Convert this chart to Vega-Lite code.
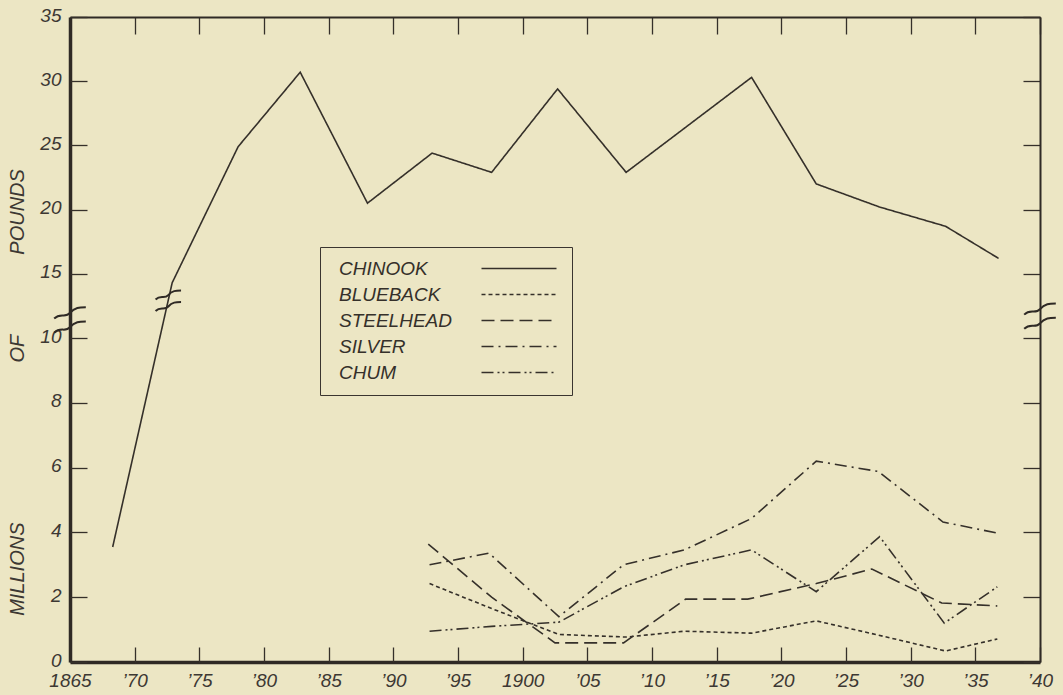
{
  "$schema": "https://vega.github.io/schema/vega-lite/v6.json",
  "width": 970,
  "height": 645,
  "autosize": {"type": "none"},
  "padding": {"left": 70, "top": 17, "right": 23, "bottom": 33},
  "background": "#ece6c4",
  "config": {"view": {"stroke": null}, "font": "Liberation Sans"},
  "datasets": {
    "series": [
      {"species": "CHINOOK", "year": 1868.3, "value": 3.55},
      {"species": "CHINOOK", "year": 1872.9, "value": 14.3},
      {"species": "CHINOOK", "year": 1878.0, "value": 24.9},
      {"species": "CHINOOK", "year": 1882.8, "value": 30.7},
      {"species": "CHINOOK", "year": 1888.0, "value": 20.5},
      {"species": "CHINOOK", "year": 1893.0, "value": 24.4},
      {"species": "CHINOOK", "year": 1897.6, "value": 22.9},
      {"species": "CHINOOK", "year": 1902.7, "value": 29.4},
      {"species": "CHINOOK", "year": 1908.0, "value": 22.9},
      {"species": "CHINOOK", "year": 1917.7, "value": 30.3},
      {"species": "CHINOOK", "year": 1922.7, "value": 22.0},
      {"species": "CHINOOK", "year": 1927.6, "value": 20.2},
      {"species": "CHINOOK", "year": 1932.7, "value": 18.7},
      {"species": "CHINOOK", "year": 1936.8, "value": 16.2},
      {"species": "BLUEBACK", "year": 1892.8, "value": 2.42},
      {"species": "BLUEBACK", "year": 1897.6, "value": 1.65},
      {"species": "BLUEBACK", "year": 1902.8, "value": 0.85},
      {"species": "BLUEBACK", "year": 1908.0, "value": 0.77},
      {"species": "BLUEBACK", "year": 1912.5, "value": 0.95},
      {"species": "BLUEBACK", "year": 1917.7, "value": 0.89},
      {"species": "BLUEBACK", "year": 1922.7, "value": 1.27},
      {"species": "BLUEBACK", "year": 1927.5, "value": 0.83},
      {"species": "BLUEBACK", "year": 1932.7, "value": 0.34},
      {"species": "BLUEBACK", "year": 1936.7, "value": 0.71},
      {"species": "STEELHEAD", "year": 1892.7, "value": 3.64},
      {"species": "STEELHEAD", "year": 1897.6, "value": 2.0},
      {"species": "STEELHEAD", "year": 1902.5, "value": 0.59},
      {"species": "STEELHEAD", "year": 1907.8, "value": 0.59},
      {"species": "STEELHEAD", "year": 1912.6, "value": 1.94},
      {"species": "STEELHEAD", "year": 1917.4, "value": 1.94},
      {"species": "STEELHEAD", "year": 1922.7, "value": 2.42},
      {"species": "STEELHEAD", "year": 1927.0, "value": 2.87},
      {"species": "STEELHEAD", "year": 1932.4, "value": 1.82},
      {"species": "STEELHEAD", "year": 1936.7, "value": 1.73},
      {"species": "SILVER", "year": 1892.8, "value": 3.0},
      {"species": "SILVER", "year": 1897.4, "value": 3.36},
      {"species": "SILVER", "year": 1902.8, "value": 1.4},
      {"species": "SILVER", "year": 1907.8, "value": 3.0},
      {"species": "SILVER", "year": 1912.5, "value": 3.46},
      {"species": "SILVER", "year": 1917.7, "value": 4.43},
      {"species": "SILVER", "year": 1922.7, "value": 6.2},
      {"species": "SILVER", "year": 1927.5, "value": 5.88},
      {"species": "SILVER", "year": 1932.5, "value": 4.32},
      {"species": "SILVER", "year": 1936.7, "value": 3.98},
      {"species": "CHUM", "year": 1892.8, "value": 0.95},
      {"species": "CHUM", "year": 1897.6, "value": 1.1},
      {"species": "CHUM", "year": 1902.8, "value": 1.23},
      {"species": "CHUM", "year": 1907.8, "value": 2.32},
      {"species": "CHUM", "year": 1912.5, "value": 3.0},
      {"species": "CHUM", "year": 1917.7, "value": 3.46},
      {"species": "CHUM", "year": 1922.7, "value": 2.17},
      {"species": "CHUM", "year": 1927.6, "value": 3.87},
      {"species": "CHUM", "year": 1932.6, "value": 1.2},
      {"species": "CHUM", "year": 1936.7, "value": 2.32}
    ],
    "axisBreaks": [
      {"year": 1865, "value": 11.4},
      {"year": 1940, "value": 11.7}
    ],
    "lineBreaks": [
      {"year": 1872.6, "value": 12.9}
    ]
  },
  "layer": [
    {
      "data": {"name": "series"},
      "mark": {"type": "line", "color": "#35302a", "strokeWidth": 1.6},
      "encoding": {
        "x": {
          "field": "year",
          "type": "quantitative",
          "scale": {"domain": [1865, 1940], "nice": false, "zero": false},
          "axis": {
            "orient": "bottom",
            "values": [1865, 1870, 1875, 1880, 1885, 1890, 1895, 1900, 1905, 1910, 1915, 1920, 1925, 1930, 1935, 1940],
            "title": null,
            "grid": false,
            "ticks": false,
            "labelExpr": "datum.value == 1865 || datum.value == 1900 ? '' + datum.value : '’' + substring('' + datum.value, 2, 4)",
            "domainWidth": 3.5,
            "domainColor": "#2f2a25",
            "labelPadding": 9,
            "labelFont": "Liberation Sans",
            "labelFontStyle": "italic",
            "labelFontSize": 19,
            "labelColor": "#3d3833",
            "labelFlush": false,
            "labelOverlap": false
          }
        },
        "y": {
          "field": "value",
          "type": "quantitative",
          "scale": {"domain": [0, 10, 35], "range": [645, 321, 0], "nice": false, "zero": false},
          "axis": {
            "orient": "left",
            "values": [0, 2, 4, 6, 8, 10, 15, 20, 25, 30, 35],
            "grid": false,
            "ticks": false,
            "title": "MILLIONS\u2003\u2003\u2003\u2003\u2003\u2003\u2003\u2003OF\u2003\u2003\u2003\u2003POUNDS",
            "titleFont": "Liberation Sans",
            "titleFontStyle": "italic",
            "titleFontWeight": "normal",
            "titleFontSize": 20,
            "titleColor": "#3d3833",
            "titleAngle": -90,
            "titleAlign": "center",
            "titleBaseline": "alphabetic",
            "titleX": -47,
            "titleY": 375,
            "domainWidth": 3.5,
            "domainColor": "#2f2a25",
            "labelPadding": 9,
            "labelOffset": -2,
            "labelFont": "Liberation Sans",
            "labelFontStyle": "italic",
            "labelFontSize": 19,
            "labelColor": "#3d3833",
            "labelFlush": false,
            "labelOverlap": false
          }
        },
        "strokeDash": {
          "field": "species",
          "type": "nominal",
          "scale": {
            "domain": ["CHINOOK", "BLUEBACK", "STEELHEAD", "SILVER", "CHUM"],
            "range": [[1, 0], [4, 3], [13, 6], [12, 5, 2, 5], [12, 4, 2, 3, 2, 4]]
          },
          "legend": {
            "orient": "none",
            "legendX": 250,
            "legendY": 230,
            "title": null,
            "symbolType": "M 28 0 L 43 0",
            "symbolSize": 100,
            "symbolStrokeWidth": 1.6,
            "symbolStrokeColor": "#35302a",
            "labelOffset": -12,
            "labelFont": "Liberation Sans",
            "labelFontStyle": "italic",
            "labelFontSize": 19,
            "labelColor": "#35302a",
            "labelLimit": 0,
            "strokeColor": "#3a3530",
            "padding": 12,
            "rowPadding": 6
          }
        }
      }
    },
    {
      "data": {"name": "axisBreaks"},
      "mark": {
        "type": "point",
        "shape": "M -1 -0.1 C -0.6 -0.5 -0.3 -0.1 0 -0.45 S 0.6 -0.8 1 -0.8 M -1 0.8 C -0.6 0.4 -0.3 0.8 0 0.45 S 0.6 0.1 1 0.1",
        "filled": false,
        "size": 1000,
        "stroke": "#2f2a25",
        "strokeWidth": 2,
        "opacity": 1
      },
      "encoding": {
        "x": {
          "field": "year",
          "type": "quantitative",
          "scale": {"domain": [1865, 1940], "nice": false, "zero": false},
          "axis": {
            "orient": "top",
            "offset": -645,
            "values": [1865, 1870, 1875, 1880, 1885, 1890, 1895, 1900, 1905, 1910, 1915, 1920, 1925, 1930, 1935, 1940],
            "title": null,
            "grid": false,
            "labels": false,
            "domain": false,
            "tickSize": 15,
            "tickWidth": 1.3,
            "tickColor": "#35302a"
          }
        },
        "y": {
          "field": "value",
          "type": "quantitative",
          "scale": {"domain": [0, 10, 35], "range": [645, 321, 0], "nice": false, "zero": false},
          "axis": {
            "orient": "right",
            "offset": -970,
            "values": [0, 2, 4, 6, 8, 10, 15, 20, 25, 30, 35],
            "title": null,
            "grid": false,
            "labels": false,
            "domain": false,
            "tickSize": 17,
            "tickWidth": 1.3,
            "tickColor": "#35302a"
          }
        }
      }
    },
    {
      "data": {"name": "lineBreaks"},
      "mark": {
        "type": "point",
        "shape": "M -1 -0.1 C -0.6 -0.5 -0.3 -0.1 0 -0.45 S 0.6 -0.8 1 -0.8 M -1 0.8 C -0.6 0.4 -0.3 0.8 0 0.45 S 0.6 0.1 1 0.1",
        "filled": false,
        "size": 650,
        "stroke": "#2f2a25",
        "strokeWidth": 2,
        "opacity": 1
      },
      "encoding": {
        "x": {
          "field": "year",
          "type": "quantitative",
          "scale": {"domain": [1865, 1940], "nice": false, "zero": false},
          "axis": {
            "orient": "bottom",
            "offset": -645,
            "values": [1865, 1870, 1875, 1880, 1885, 1890, 1895, 1900, 1905, 1910, 1915, 1920, 1925, 1930, 1935, 1940],
            "title": null,
            "grid": false,
            "labels": false,
            "tickSize": 17,
            "tickWidth": 1.3,
            "tickColor": "#35302a",
            "domainWidth": 2,
            "domainColor": "#2f2a25"
          }
        },
        "y": {
          "field": "value",
          "type": "quantitative",
          "scale": {"domain": [0, 10, 35], "range": [645, 321, 0], "nice": false, "zero": false},
          "axis": {
            "orient": "left",
            "offset": -970,
            "values": [0, 2, 4, 6, 8, 10, 15, 20, 25, 30, 35],
            "title": null,
            "grid": false,
            "labels": false,
            "tickSize": 17,
            "tickWidth": 1.3,
            "tickColor": "#35302a",
            "domainWidth": 2,
            "domainColor": "#2f2a25"
          }
        }
      }
    }
  ],
  "resolve": {"axis": {"x": "independent", "y": "independent"}}
}
